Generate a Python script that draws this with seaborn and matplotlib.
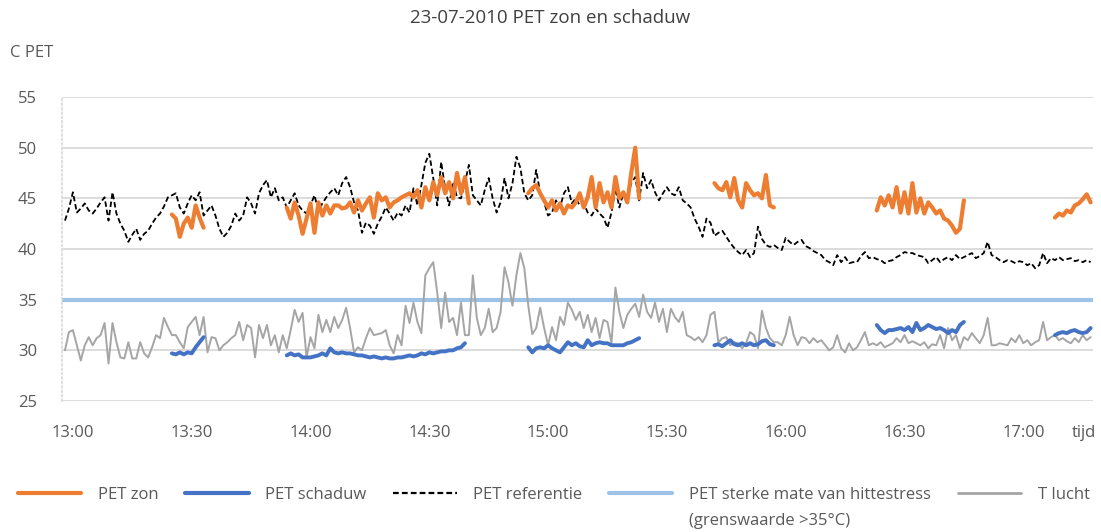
import numpy as np
import pandas as pd
import matplotlib
matplotlib.use("Agg")
import matplotlib.pyplot as plt
import seaborn as sns
from matplotlib.lines import Line2D

# ---------------- data ----------------
title = "23-07-2010 PET zon en schaduw"
y_label = "C PET"
x_label = "tijd"
tick_times = ["13:00", "13:30", "14:00", "14:30", "15:00", "15:30", "16:00", "16:30", "17:00"]
y_ticks = [25, 30, 35, 40, 45, 50, 55]
threshold = 35  # PET sterke mate van hittestress

series_start = "12:58"  # first sample, one value per minute

pet_referentie = [
    42.8, 44.0, 45.6, 43.6, 44.0, 44.5, 43.8, 43.5, 44.0, 44.6,
    45.1, 42.8, 45.6, 43.5, 42.5, 41.8, 40.7, 41.4, 42.0, 40.9,
    41.5, 41.8, 42.5, 43.1, 43.5, 44.2, 45.1, 45.3, 45.5, 44.1,
    43.5, 44.5, 45.3, 44.8, 45.6, 43.3, 43.8, 44.3, 43.3, 42.0,
    41.2, 41.6, 42.3, 43.5, 42.8, 43.3, 45.1, 44.5, 43.5, 45.5,
    46.3, 46.8, 45.1, 46.0, 44.8, 45.1, 44.1, 44.8, 45.5, 44.3,
    43.8, 43.5, 44.3, 45.3, 43.8, 44.5, 45.1, 45.6, 46.0, 45.3,
    46.5, 47.1, 46.1, 44.6, 43.8, 41.6, 42.6, 42.3, 41.5, 42.5,
    43.2, 44.1, 43.5, 42.8, 43.6, 43.3, 44.3, 43.6, 46.0, 44.3,
    46.3, 48.5, 49.4, 47.0, 44.3, 48.6, 46.0, 44.3, 46.6, 45.1,
    45.0, 46.6, 48.3, 45.3, 44.8, 44.3, 45.8, 47.0, 45.0, 43.6,
    44.6, 47.0, 45.0, 46.5, 49.1, 48.0, 45.5, 44.8, 45.3, 47.8,
    45.5, 44.6, 43.3, 43.6, 44.8, 44.1, 45.5, 46.1, 44.5, 45.0,
    44.3, 44.5, 43.6, 43.3, 44.0, 43.5, 43.1, 42.1, 43.6, 46.0,
    44.1, 45.5, 45.0, 46.5, 47.1, 44.8, 47.5, 46.0, 46.8, 45.6,
    44.8, 45.5, 46.1, 45.5, 45.3, 46.1, 44.8, 44.5, 44.1, 43.0,
    42.2, 41.2, 43.0, 42.6, 41.3, 41.6, 41.8, 41.2, 40.6, 40.1,
    39.7, 39.4, 39.9, 39.2, 39.6, 42.2, 41.0, 40.4, 40.2, 40.4,
    40.1, 39.9, 41.1, 40.7, 40.4, 40.7, 40.9, 40.3, 40.1, 39.8,
    39.6, 39.4, 38.9, 38.7, 38.4, 39.4, 38.7, 39.2, 38.6, 38.7,
    38.7, 39.3, 39.7, 39.1, 39.2, 39.0, 38.9, 38.6, 38.8, 38.9,
    39.2, 39.4, 39.7, 39.6, 39.6, 39.4, 39.3, 39.2, 38.6, 38.9,
    39.2, 38.7, 39.0, 39.2, 38.9, 39.4, 39.0, 39.2, 39.4, 39.6,
    39.1, 39.3, 39.6, 40.7, 39.4, 39.2, 38.9, 38.7, 38.9, 38.8,
    38.6, 38.8, 38.7, 38.4, 38.6, 38.1, 38.4, 39.6, 38.6, 39.1,
    38.9, 39.2, 38.9, 39.0, 39.1, 38.8, 38.9, 38.7, 38.9, 38.7,
]

t_lucht = [
    30.0, 31.8, 32.0, 30.5, 29.0, 30.5, 31.3, 30.5, 31.2, 31.5,
    32.7, 28.7, 32.7, 30.8, 29.3, 29.2, 30.8, 29.2, 29.2, 30.8,
    29.7, 29.3, 30.3, 31.5, 31.2, 33.2, 32.3, 31.5, 31.5, 30.8,
    30.2, 32.3, 32.8, 33.3, 31.5, 33.3, 29.8, 31.3, 31.2, 30.0,
    30.5, 30.8, 31.2, 31.5, 32.8, 31.0, 32.5, 32.2, 29.3, 32.5,
    31.2, 32.5, 30.5, 31.5, 29.8, 31.5, 30.2, 32.0, 34.0, 32.8,
    33.7, 29.3, 31.3, 30.2, 33.5, 31.8, 33.0, 31.8, 33.3, 32.2,
    33.0, 34.2, 32.2, 29.8, 30.3, 30.0, 31.2, 32.2, 31.5, 31.6,
    31.7, 32.0, 30.5, 29.7, 31.5, 30.5, 34.4, 32.7, 34.7, 32.8,
    31.7, 37.4, 38.1, 38.7, 35.7, 32.2, 35.7, 32.8, 33.2, 31.5,
    34.7, 31.5, 31.5, 37.4, 33.2, 31.5, 32.2, 34.1, 31.8, 32.2,
    33.8, 38.2, 36.7, 34.4, 37.4, 39.6, 38.1, 34.4, 31.6, 32.2,
    34.2, 32.2, 30.5, 32.3, 31.0, 33.3, 32.5, 34.7, 34.0, 33.0,
    33.8, 32.2, 33.5, 31.8, 33.2, 31.2, 33.0, 32.8, 30.7, 36.2,
    33.8, 32.2, 33.5, 34.1, 34.6, 33.3, 35.5, 33.8, 33.2, 34.7,
    32.8, 34.1, 31.8, 34.1, 33.3, 32.8, 33.8, 31.5, 31.3, 31.0,
    31.3, 30.8, 31.5, 33.5, 33.8, 30.8, 31.2, 31.3, 30.5, 30.8,
    30.7, 30.2, 30.7, 31.8, 31.5, 30.2, 33.9, 32.2, 31.2, 30.8,
    30.8, 30.5, 31.5, 33.3, 31.5, 30.5, 31.3, 31.2, 30.7, 31.2,
    30.8, 31.0, 30.5, 30.0, 30.3, 31.5, 30.2, 29.8, 30.7, 30.0,
    30.3, 31.0, 31.8, 30.5, 30.7, 30.5, 30.8, 30.3, 30.5, 30.7,
    31.2, 30.8, 31.5, 30.7, 30.9, 30.7, 30.5, 30.8, 30.2, 30.6,
    30.5, 31.5, 30.2, 32.2, 31.0, 31.5, 30.2, 31.3, 31.0, 31.7,
    31.2, 30.7, 31.5, 33.2, 30.5, 30.5, 30.7, 30.6, 30.5, 31.2,
    30.8, 31.5, 30.7, 31.0, 30.5, 30.8, 31.0, 32.8, 31.0, 31.3,
    31.5, 31.0, 31.2, 30.9, 30.7, 31.2, 30.8, 31.5, 31.0, 31.3,
]

# measurement runs (start time of each run)
run_starts = ["13:25", "13:54", "14:55", "15:42", "16:23", "17:08"]

zon_run1 = [43.4, 43.0, 41.2, 42.5, 43.1, 42.1, 44.3, 43.1, 42.1]
zon_run2 = [44.1, 43.0, 44.6, 43.3, 41.5, 43.0, 44.5, 41.6, 44.6, 43.3,
            44.3, 43.5, 44.3, 44.3, 44.0, 44.1, 44.6, 43.6, 44.8, 43.8,
            44.5, 45.1, 43.1, 45.5, 44.8, 45.1, 44.1, 44.6, 44.8, 45.1,
            45.3, 45.5, 45.1, 45.8, 44.1, 46.1, 44.8, 46.6, 45.3, 47.1,
            45.5, 46.6, 45.0, 47.5, 45.5, 47.1, 44.5]
zon_run3 = [45.5, 46.0, 46.3, 45.5, 44.8, 44.1, 44.8, 43.8, 44.5, 43.5,
            44.3, 44.1, 44.6, 45.5, 44.1, 45.1, 47.1, 44.1, 46.5, 44.6,
            45.6, 44.1, 47.1, 45.0, 45.6, 44.6, 47.5, 50.0, 45.0]
zon_run4 = [46.5, 46.0, 45.8, 46.6, 45.1, 47.0, 44.8, 44.1, 46.5, 45.8,
            45.3, 45.5, 45.0, 47.3, 44.3, 44.1]
zon_run5 = [43.8, 45.1, 44.3, 45.3, 44.1, 46.1, 43.6, 45.6, 43.5, 46.5,
            43.6, 45.0, 43.5, 44.6, 44.1, 43.5, 43.8, 43.0, 42.8, 42.3,
            41.6, 42.0, 44.8]
zon_run6 = [43.1, 43.5, 43.3, 43.8, 43.6, 44.3, 44.5, 44.9, 45.4, 44.6]

schaduw_run1 = [29.7, 29.6, 29.8, 29.6, 29.8, 29.7, 30.3, 30.8, 31.3]
schaduw_run2 = [29.5, 29.7, 29.5, 29.6, 29.3, 29.3, 29.3, 29.4, 29.5, 29.7,
                29.5, 30.2, 29.8, 29.7, 29.8, 29.7, 29.7, 29.6, 29.5, 29.5,
                29.4, 29.3, 29.4, 29.3, 29.2, 29.3, 29.2, 29.2, 29.3, 29.3,
                29.4, 29.5, 29.4, 29.5, 29.7, 29.6, 29.8, 29.7, 29.8, 29.9,
                29.9, 30.0, 30.0, 30.2, 30.3, 30.7]
schaduw_run3 = [30.3, 29.8, 30.2, 30.3, 30.2, 30.5, 30.2, 30.0, 29.8, 30.3,
                30.8, 30.5, 30.7, 30.4, 30.3, 31.0, 30.5, 30.7, 30.8, 30.7,
                30.7, 30.5, 30.5, 30.5, 30.5, 30.7, 30.8, 31.0, 31.2]
schaduw_run4 = [30.5, 30.6, 30.4, 30.7, 31.0, 30.6, 30.5, 30.7, 30.5, 30.7,
                30.5, 30.6, 30.9, 31.0, 30.6, 30.5]
schaduw_run5 = [32.5, 32.0, 31.7, 32.0, 32.0, 32.1, 32.2, 32.0, 32.3, 31.8,
                32.7, 32.0, 32.2, 32.5, 32.3, 32.1, 32.2, 32.0, 31.7, 32.0,
                31.8, 32.5, 32.8]
schaduw_run6 = [31.5, 31.7, 31.8, 31.7, 31.9, 32.0, 31.8, 31.7, 31.8, 32.2]

legend_labels = ["PET zon", "PET schaduw", "PET referentie",
                 "PET sterke mate van hittestress", "T lucht"]
legend_note = "(grenswaarde >35°C)"

# ---------------- helpers ----------------
def to_min(hhmm):
    h, m = hhmm.split(":")
    return (int(h) - 13) * 60 + int(m)

def runs_frame(starts, runs):
    frames = []
    for i, (s, vals) in enumerate(zip(starts, runs)):
        t0 = to_min(s)
        frames.append(pd.DataFrame({"t": t0 + np.arange(len(vals)), "v": vals, "run": i}))
    return pd.concat(frames, ignore_index=True)

t0 = to_min(series_start)
df_ref = pd.DataFrame({"t": t0 + np.arange(len(pet_referentie)), "v": pet_referentie})
df_lucht = pd.DataFrame({"t": t0 + np.arange(len(t_lucht)), "v": t_lucht})
df_zon = runs_frame(run_starts, [zon_run1, zon_run2, zon_run3, zon_run4, zon_run5, zon_run6])
df_sch = runs_frame(run_starts, [schaduw_run1, schaduw_run2, schaduw_run3,
                                 schaduw_run4, schaduw_run5, schaduw_run6])

# ---------------- style ----------------
sns.set_theme(style="white")
plt.rcParams['font.family'] = ['Open Sans', 'DejaVu Sans']
TXT = "#595959"
C_ZON = "#ED7D31"
C_SCH = "#4472C4"
C_REF = "#000000"
C_THR = "#9DC3E6"
C_LUCHT = "#A5A5A5"

fig = plt.figure(figsize=(11.01, 5.32), dpi=100)
ax = fig.add_axes([62 / 1101, 1 - 401 / 532, (1093 - 62) / 1101, (401 - 97) / 532])

ax.axhline(threshold, color=C_THR, lw=3.0, zorder=2)
sns.lineplot(data=df_lucht, x="t", y="v", ax=ax, color=C_LUCHT, lw=1.4,
             estimator=None, zorder=3)
sns.lineplot(data=df_ref, x="t", y="v", ax=ax, color=C_REF, lw=1.3,
             linestyle=(0, (3.0, 1.6)), estimator=None, zorder=4)
sns.lineplot(data=df_sch, x="t", y="v", units="run", ax=ax, color=C_SCH, lw=2.8,
             estimator=None, zorder=5)
sns.lineplot(data=df_zon, x="t", y="v", units="run", ax=ax, color=C_ZON, lw=3.0,
             estimator=None, zorder=6)

ax.set_xlim(t0 - 0.75, t0 + len(pet_referentie) - 0.4)
ax.set_ylim(y_ticks[0], y_ticks[-1])
ax.set_yticks(y_ticks)
tick_pos = [to_min(s) for s in tick_times]
ax.set_xticks(tick_pos + [t0 + len(pet_referentie) - 2.6])
ax.set_xticklabels(tick_times + [x_label])
ax.set_xlabel("")
ax.set_ylabel("")
ax.yaxis.grid(True, color="#D9D9D9", lw=1.3)
ax.xaxis.grid(False)
for s in ["top", "right", "bottom"]:
    ax.spines[s].set_visible(False)
ax.spines["left"].set_color("#D9D9D9")
ax.spines["left"].set_linestyle(":")
ax.spines["left"].set_linewidth(1.2)
ax.tick_params(axis="both", length=0, labelsize=12, colors=TXT)
ax.tick_params(axis="y", pad=18)
ax.tick_params(axis="x", pad=17)

fig.text(0.5, 1 - 18 / 532, title, ha="center", va="center", fontsize=13.5, color="#404040")
fig.text(10 / 1101, 1 - 53 / 532, y_label, ha="left", va="center", fontsize=12, color=TXT)

handles = [
    Line2D([], [], color=C_ZON, lw=3.0),
    Line2D([], [], color=C_SCH, lw=3.0),
    Line2D([], [], color=C_REF, lw=1.6, linestyle=(0, (2.6, 1.4))),
    Line2D([], [], color=C_THR, lw=3.0),
    Line2D([], [], color=C_LUCHT, lw=2.0),
]
leg = fig.legend(handles, legend_labels, loc="center", ncol=5,
                 bbox_to_anchor=(0.503, 1 - 495 / 532), frameon=False,
                 fontsize=12, handlelength=3.8, handletextpad=1.0,
                 columnspacing=1.6, labelcolor=TXT, borderpad=0.2)

fig.canvas.draw()
tb = leg.get_texts()[3].get_window_extent()
inv = fig.transFigure.inverted()
x0, y0 = inv.transform((tb.x0, tb.y0))
fig.text(x0, y0 - 10 / 532, legend_note, ha="left", va="top", fontsize=12, color=TXT)

fig.savefig("out.png", dpi=100)
